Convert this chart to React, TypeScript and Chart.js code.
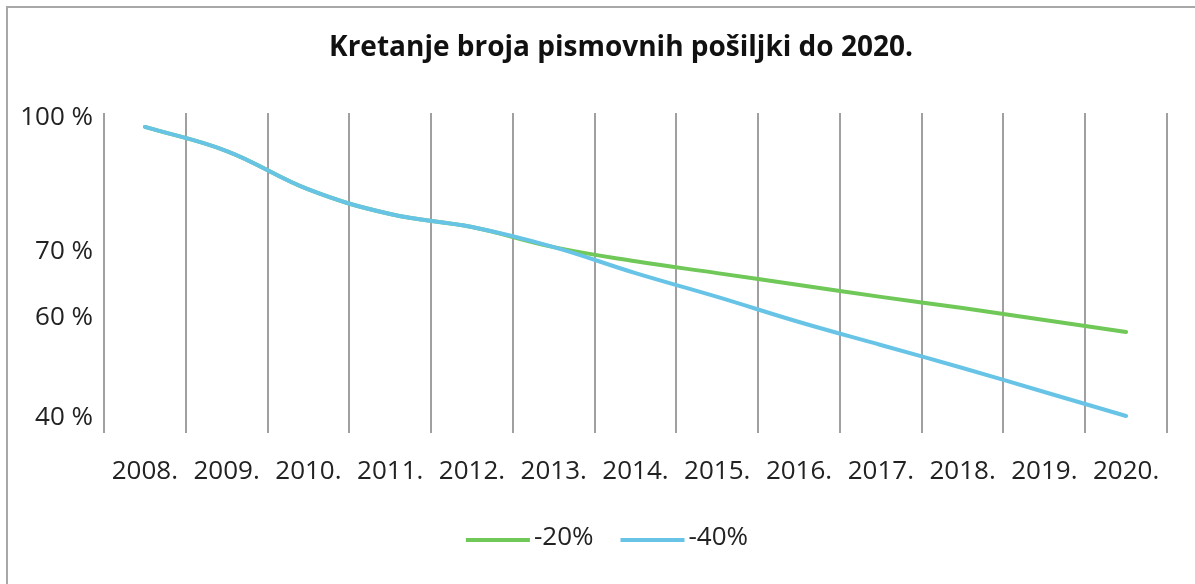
import React, { useEffect, useRef } from "react";
import { Chart, registerables, LinearScale } from "chart.js";

// ---- data ----
const TITLE = "Kretanje broja pismovnih pošiljki do 2020.";
const years = ["2008.", "2009.", "2010.", "2011.", "2012.", "2013.", "2014.", "2015.", "2016.", "2017.", "2018.", "2019.", "2020."];
const minus20 = [98.0, 92.6, 84.0, 78.5, 75.6, 71.1, 68.6, 66.8, 65.0, 63.2, 61.5, 59.6, 57.2];
const minus40 = [98.0, 92.6, 84.0, 78.5, 75.6, 71.1, 66.8, 63.2, 59.2, 54.6, 50.0, 45.2, 40.4];
const seriesLabels = ["-20%", "-40%"];
const yTickValues = [100, 70, 60, 40];
const yTickLabels = ["100 %", "70 %", "60 %", "40 %"];

// ---- axis layout (where each labelled value sits, as a fraction of plot height from the bottom) ----
const AXIS_ANCHOR_VALUES = [40, 60, 70, 100];
const AXIS_ANCHOR_FRACTIONS = [0.0469, 0.3594, 0.5656, 0.9844];

function valueToFraction(v: number): number {
  const xs = AXIS_ANCHOR_VALUES, fs = AXIS_ANCHOR_FRACTIONS;
  let i = 0;
  if (v <= xs[0]) i = 0;
  else if (v >= xs[xs.length - 1]) i = xs.length - 2;
  else { while (i < xs.length - 2 && v > xs[i + 1]) i++; }
  const t = (v - xs[i]) / (xs[i + 1] - xs[i]);
  return fs[i] + t * (fs[i + 1] - fs[i]);
}
function fractionToValue(f: number): number {
  const xs = AXIS_ANCHOR_VALUES, fs = AXIS_ANCHOR_FRACTIONS;
  let i = 0;
  if (f <= fs[0]) i = 0;
  else if (f >= fs[fs.length - 1]) i = fs.length - 2;
  else { while (i < fs.length - 2 && f > fs[i + 1]) i++; }
  const t = (f - fs[i]) / (fs[i + 1] - fs[i]);
  return xs[i] + t * (xs[i + 1] - xs[i]);
}

class PiecewiseScale extends LinearScale {
  static id = "piecewise";
  static defaults = LinearScale.defaults;
  getPixelForValue(value: number) {
    return this.getPixelForDecimal(valueToFraction(value));
  }
  getValueForPixel(pixel: number) {
    return fractionToValue(this.getDecimalForPixel(pixel));
  }
}

Chart.register(...registerables, PiecewiseScale as any);

const GREEN = "rgb(112,200,88)";
const BLUE = "rgb(104,196,230)";
const FONT = '"Open Sans", "DejaVu Sans", sans-serif';

const decorPlugin = {
  id: "decor",
  afterDraw(chart: any) {
    const ctx = chart.ctx as CanvasRenderingContext2D;
    ctx.save();
    // title
    ctx.font = `bold 28px ${FONT}`;
    ctx.fillStyle = "#111111";
    ctx.textAlign = "center";
    ctx.textBaseline = "middle";
    ctx.fillText(TITLE, 613, 40);
    // legend
    ctx.font = `26px ${FONT}`;
    const items = chart.data.datasets.map((ds: any) => ({
      label: ds.label as string,
      color: ds.borderColor as string,
      w: ctx.measureText(ds.label).width,
    }));
    const lineLen = 64, gap = 4, itemGap = 27;
    const total = items.reduce((s: number, it: any) => s + lineLen + gap + it.w, 0) + itemGap * (items.length - 1);
    let x = 599 - total / 2;
    const y = 532;
    for (const it of items) {
      ctx.strokeStyle = it.color;
      ctx.lineWidth = 4;
      ctx.beginPath();
      ctx.moveTo(x, y);
      ctx.lineTo(x + lineLen, y);
      ctx.stroke();
      ctx.fillStyle = "#222222";
      ctx.textAlign = "left";
      ctx.textBaseline = "middle";
      ctx.fillText(it.label, x + lineLen + gap, y - 2);
      x += lineLen + gap + it.w + itemGap;
    }
    ctx.restore();
  },
};

export default function App() {
  const ref = useRef<HTMLCanvasElement | null>(null);
  useEffect(() => {
    document.documentElement.style.overflow = "hidden";
    const canvas = ref.current!;
    const chart = new Chart(canvas, {
      type: "line",
      data: {
        labels: years,
        datasets: [
          {
            label: seriesLabels[0],
            data: minus20,
            borderColor: GREEN,
            backgroundColor: GREEN,
            borderWidth: 4,
            pointRadius: 0,
            tension: 0.4,
            borderCapStyle: "round",
            order: 1,
          },
          {
            label: seriesLabels[1],
            data: minus40,
            borderColor: BLUE,
            backgroundColor: BLUE,
            borderWidth: 4,
            pointRadius: 0,
            tension: 0.4,
            borderCapStyle: "round",
            order: 0,
          },
        ],
      },
      options: {
        animation: false,
        responsive: false,
        events: [],
        layout: { padding: { top: 105, right: 28, bottom: 91, left: 0 } },
        plugins: {
          legend: { display: false },
          title: { display: false },
          tooltip: { enabled: false },
        },
        scales: {
          x: {
            type: "category",
            offset: true,
            grid: { display: true, offset: true, color: "#a0a0a0", lineWidth: 2, drawTicks: false },
            border: { display: false },
            ticks: {
              autoSkip: false,
              maxRotation: 0,
              padding: 23,
              color: "#222222",
              font: { family: FONT, size: 26 },
            },
            afterFit: (s: any) => { s.height = 60; },
          },
          y: {
            type: "piecewise" as any,
            min: 38,
            max: 101,
            grid: { display: false, drawTicks: false },
            border: { display: false },
            ticks: {
              padding: 11,
              color: "#222222",
              font: { family: FONT, size: 26 },
              callback: (v: any) => {
                const i = yTickValues.indexOf(Number(v));
                return i >= 0 ? yTickLabels[i] : "";
              },
            },
            afterBuildTicks: (s: any) => {
              s.ticks = yTickValues.map((v) => ({ value: v }));
            },
            afterFit: (s: any) => { s.width = 96; },
          },
        },
      } as any,
      plugins: [decorPlugin],
    });
    return () => chart.destroy();
  }, []);
  return (
    <div
      style={{
        position: "absolute",
        left: 6,
        top: 6,
        borderTop: "2px solid #a8a8a8",
        borderLeft: "2px solid #a8a8a8",
        width: 1187,
        height: 576,
        background: "#ffffff",
      }}
    >
      <canvas ref={ref} width={1187} height={576} style={{ display: "block", width: 1187, height: 576 }} />
    </div>
  );
}
